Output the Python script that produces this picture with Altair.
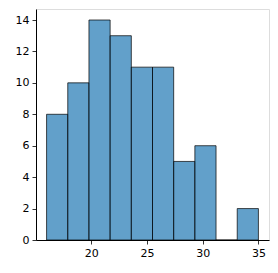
import altair as alt
import pandas as pd

bin_start = [16.0, 17.9, 19.8, 21.7, 23.6, 25.5, 27.4, 29.3, 31.2, 33.1]
bin_end = [17.9, 19.8, 21.7, 23.6, 25.5, 27.4, 29.3, 31.2, 33.1, 35.0]
counts = [8, 10, 14, 13, 11, 11, 5, 6, 0, 2]

df = pd.DataFrame({"start": bin_start, "end": bin_end, "count": counts})

font = "DejaVu Sans"
axis_common = dict(
    grid=False, domainColor="black", domainWidth=1, tickColor="black",
    tickSize=4, tickWidth=0.8, labelColor="black", labelFont=font,
    labelFontSize=11, title=None, labelPadding=3,
)

chart = alt.Chart(df).mark_rect(
    fill="#1f77b4", fillOpacity=0.7, stroke="black", strokeOpacity=0.7, strokeWidth=1
).encode(
    x=alt.X("start:Q", scale=alt.Scale(domain=[15.05, 35.95], nice=False, zero=False),
            axis=alt.Axis(values=[20, 25, 30, 35], **axis_common)),
    x2="end:Q",
    y=alt.Y("count:Q", scale=alt.Scale(domain=[0, 14.7], nice=False),
            axis=alt.Axis(values=[0, 2, 4, 6, 8, 10, 12, 14], **axis_common)),
    y2=alt.datum(0),
).properties(
    width=233, height=231,
    autosize=alt.AutoSizeParams(type="none"),
    padding={"left": 36, "top": 9, "right": 9, "bottom": 33},
).configure_view(stroke="black", strokeWidth=1).configure(background="white")

chart.save("out.html", embed_options={"renderer": "svg", "actions": False})
